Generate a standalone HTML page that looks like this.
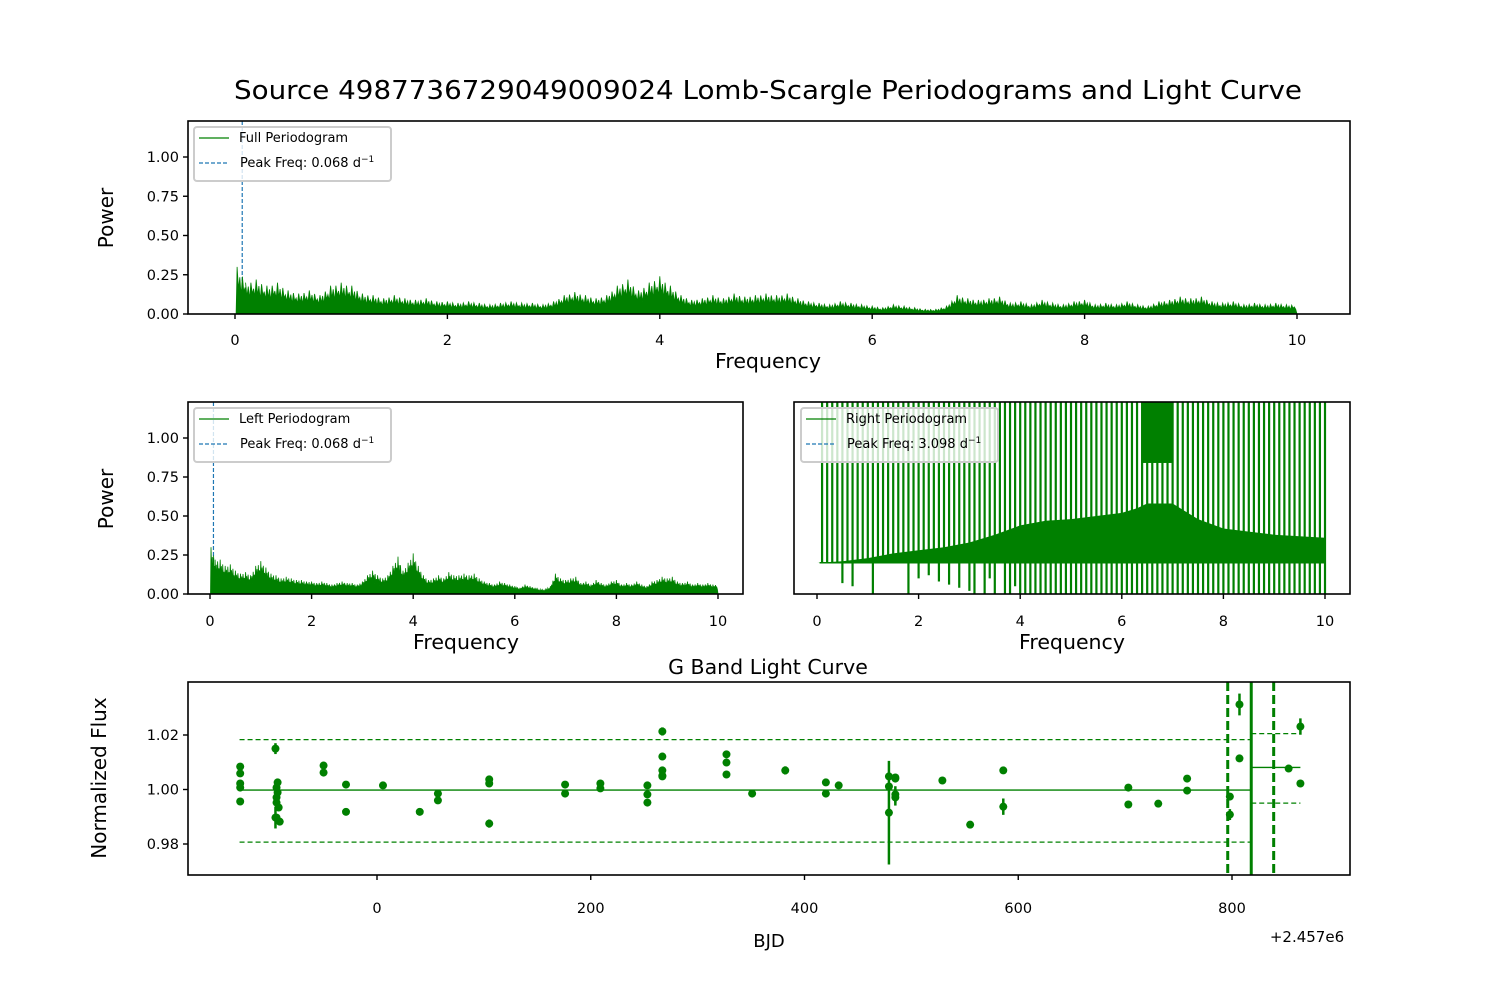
<!DOCTYPE html>
<html><head><meta charset="utf-8"><style>
html,body{margin:0;padding:0;background:#fff;}
svg{display:block;font-family:"DejaVu Sans","Liberation Sans",sans-serif;}
</style></head><body>
<svg id="fig" width="1500" height="1000" viewBox="0 0 1500 1000" xmlns="http://www.w3.org/2000/svg">
<rect width="1500" height="1000" fill="#fff"/>
<text x="768" y="99" font-size="26" text-anchor="middle" textLength="1068" lengthAdjust="spacingAndGlyphs">Source 4987736729049009024 Lomb-Scargle Periodograms and Light Curve</text>
<defs>
<clipPath id="c1"><rect x="188" y="121" width="1162" height="193"/></clipPath>
<clipPath id="c2"><rect x="188" y="402" width="555" height="192"/></clipPath>
<clipPath id="c3"><rect x="794" y="402" width="556" height="192"/></clipPath>
<clipPath id="c4"><rect x="188" y="682" width="1162" height="193"/></clipPath>
</defs>
<g id="p1" clip-path="url(#c1)"></g>
<g id="p2" clip-path="url(#c2)"></g>
<g id="p3" clip-path="url(#c3)"></g>
<g id="p4" clip-path="url(#c4)"></g>
<g id="axes"></g>
</svg>
<script>
// ---- data ----
const fullFreqs = [];
const fullPower = [0.30,0.20,0.22,0.18,0.20,0.15,0.13,0.15,0.12,0.18,
0.20,0.18,0.13,0.12,0.10,0.12,0.10,0.09,0.10,0.08,
0.08,0.07,0.08,0.07,0.06,0.07,0.08,0.07,0.07,0.06,
0.08,0.12,0.14,0.12,0.10,0.12,0.18,0.22,0.15,0.20,
0.24,0.18,0.12,0.09,0.10,0.12,0.10,0.13,0.11,0.12,
0.13,0.12,0.13,0.10,0.08,0.07,0.06,0.08,0.07,0.06,
0.05,0.04,0.06,0.05,0.04,0.03,0.03,0.05,0.12,0.10,
0.09,0.10,0.11,0.07,0.08,0.06,0.09,0.07,0.06,0.08,
0.09,0.06,0.07,0.06,0.08,0.06,0.05,0.08,0.09,0.11,
0.10,0.11,0.08,0.07,0.08,0.06,0.07,0.06,0.07,0.06];
const leftPower = [0.30,0.22,0.22,0.18,0.19,0.15,0.13,0.14,0.12,0.18,
0.21,0.17,0.13,0.12,0.10,0.11,0.10,0.09,0.09,0.08,
0.08,0.07,0.08,0.07,0.06,0.07,0.08,0.07,0.07,0.06,
0.08,0.12,0.15,0.12,0.10,0.12,0.18,0.24,0.15,0.20,
0.26,0.18,0.12,0.09,0.10,0.12,0.10,0.14,0.12,0.12,
0.13,0.12,0.13,0.10,0.08,0.07,0.06,0.08,0.07,0.06,
0.05,0.04,0.06,0.05,0.04,0.03,0.03,0.05,0.13,0.10,
0.09,0.10,0.11,0.07,0.08,0.06,0.09,0.07,0.06,0.08,
0.09,0.06,0.07,0.06,0.08,0.06,0.05,0.08,0.09,0.11,
0.10,0.11,0.08,0.07,0.08,0.06,0.07,0.06,0.07,0.06];
const peakFull = 0.068, peakLeft = 0.068;
const rightSpikeFreqs = [0.1,0.2,0.3,0.4,0.5,0.6,0.7,0.8,0.9,1.0,1.1,1.2,1.3,1.4,1.5,1.6,1.7,1.8,1.9,2.0,
2.1,2.2,2.3,2.4,2.5,2.6,2.7,2.8,2.9,3.0,3.1,3.2,3.3,3.4,3.5,3.6,3.7,3.8,3.9,4.0,
4.1,4.2,4.3,4.4,4.5,4.6,4.7,4.8,4.9,5.0,5.1,5.2,5.3,5.4,5.5,5.6,5.7,5.8,5.9,6.0,
6.1,6.2,6.3,6.4,6.5,6.6,6.7,6.8,6.9,7.0,7.1,7.2,7.3,7.4,7.5,7.6,7.7,7.8,7.9,8.0,
8.1,8.2,8.3,8.4,8.5,8.6,8.7,8.8,8.9,9.0,9.1,9.2,9.3,9.4,9.5,9.6,9.7,9.8,9.9,10.0];
const rightSpikeLows = [0.2,0.2,0.2,0.2,0.07,0.2,0.05,0.2,0.2,0.2,0.0,0.2,0.2,0.2,0.2,0.2,0.2,0.0,0.2,0.1,
0.2,0.12,0.2,0.08,0.2,0.06,0.2,0.04,0.2,0.02,0.0,0.2,0.0,0.1,0.0,0.2,0.0,0.0,0.05,0.0,
0.0,0.0,0.0,0.0,0.0,0.0,0.0,0.0,0.0,0.0,0.0,0.0,0.0,0.0,0.0,0.0,0.0,0.0,0.0,0.0,
0.0,0.0,0.0,0.0,0.0,0.0,0.0,0.0,0.0,0.0,0.0,0.0,0.0,0.0,0.0,0.0,0.0,0.0,0.0,0.0,
0.0,0.0,0.0,0.0,0.0,0.0,0.0,0.0,0.0,0.0,0.0,0.0,0.0,0.0,0.0,0.0,0.0,0.0,0.0,0.0];
const rightMassFreqs = [0.0,0.5,1.0,1.5,2.0,2.5,3.0,3.5,4.0,4.5,5.0,5.5,6.0,6.3,6.5,7.0,7.3,7.5,8.0,8.5,9.0,9.5,10.0];
const rightMassTop = [0.2,0.21,0.23,0.26,0.28,0.3,0.33,0.38,0.44,0.47,0.48,0.5,0.52,0.55,0.58,0.58,0.52,0.48,0.42,0.4,0.38,0.37,0.36];
const rightBlockFreqs = [6.4,7.0];
const rightBlockRange = [0.84,1.25];
const peakRight = 3.098;
const lcX = [-128,-128,-128,-128,-128,-95,-93,-94,-93,-94,-94,-92,-94,-91,-95,-50,-50,-29,-29,5.6,57,57,40,105,105,105,176,176,
209,209,253,253,253,267,267,267,267,267,327,327,327,351,382,420,420,432,479,479,479,485,485,485,485,529,555,
586,586,703,703,731,758,758,798,798,807,807,853,864,864];
const lcY = [1.0084,1.0059,1.0022,1.0007,0.9956,1.0150,1.0026,1.0007,0.9989,0.9971,0.9952,0.9934,0.9897,0.9882,0.9897,1.0088,1.0062,1.0018,0.9918,1.0015,0.9985,0.9960,0.9918,1.0037,1.0022,0.9875,1.0018,0.9985,
1.0022,1.0004,1.0015,0.9982,0.9952,1.0213,1.0121,1.0070,1.0051,1.0048,1.0129,1.0099,1.0055,0.9985,1.0070,1.0026,0.9985,1.0015,1.0048,1.0011,0.9915,1.0040,0.9982,0.9971,1.0044,1.0033,0.9871,
1.0070,0.9937,1.0007,0.9945,0.9948,1.0040,0.9996,0.9974,0.9908,1.0312,1.0114,1.0077,1.0231,1.0022];
const lcErr = [0.0008,0.0008,0.0008,0.0008,0.0008,0.002,0.001,0.001,0.001,0.001,0.001,0.001,0.001,0.001,0.004,0.0008,0.0008,0.0008,0.0008,0.0008,0.0008,0.0008,0.0008,0.0008,0.0008,0.0015,0.0008,0.0008,
0.0008,0.0008,0.0008,0.0008,0.0008,0.0015,0.0008,0.0008,0.0008,0.0008,0.0008,0.0008,0.0008,0.0008,0.0015,0.0008,0.0008,0.0008,0.0008,0.0008,0.019,0.0008,0.003,0.003,0.0008,0.0008,0.0008,
0.0008,0.003,0.0008,0.0008,0.0008,0.0008,0.0008,0.0008,0.002,0.004,0.0008,0.0008,0.003,0.0008];
const lcMean = 0.9998, lcUpper = 1.0183, lcLower = 0.9807, lcLineStart = -128.6, lcSplit = 818;
const lcMeanR = 1.0081, lcUpperR = 1.0205, lcLowerR = 0.9950, lcLineEndR = 864;
const lcVLines = [796, 839];
const powerTicks = [0, 0.25, 0.5, 0.75, 1.0];
const powerTickLabels = ["0.00","0.25","0.50","0.75","1.00"];
const freqTicks = [0,2,4,6,8,10];
const fluxTicks = [0.98, 1.00, 1.02];
const fluxTickLabels = ["0.98","1.00","1.02"];
const bjdTicks = [0,200,400,600,800];
for (let i=0;i<100;i++) fullFreqs.push(0.05+i*0.1);

// ---- helpers ----
const NS="http://www.w3.org/2000/svg";
const G="#008000";
function mk(tag, attrs, parent){const e=document.createElementNS(NS,tag);for(const k in attrs)e.setAttribute(k,attrs[k]);(parent||document.getElementById('axes')).appendChild(e);return e;}
function lin(d0,d1,r0,r1){return v=>r0+(v-d0)*(r1-r0)/(d1-d0);}

const P1={x0:188,x1:1350,y0:121,y1:314, sx:lin(0,10,235,1297), sy:lin(0,1,314,157)};
const P2={x0:188,x1:743,y0:402,y1:594, sx:lin(0,10,210,718), sy:lin(0,1,594,438)};
const P3={x0:794,x1:1350,y0:402,y1:594, sx:lin(0,10,817,1325), sy:lin(0,1,594,438)};
const P4={x0:188,x1:1350,y0:682,y1:875, sx:lin(0,800,377,1232), sy:lin(0.98,1.02,844,735)};

function drawPeriodogram(g, P, freqs, power, peak){
  const pat=[1,0.55,0.85,0.45,0.95,0.6,0.75,0.5];
  let pts=[[P.sx(freqs[0]-0.04),P.sy(0)]];
  for(let i=0;i<freqs.length;i++){
    const nxt = i<freqs.length-1?power[i+1]:power[i];
    for(let k=0;k<pat.length;k++){
      const f=freqs[i]-0.05+0.1*k/pat.length+ (i==0?0.02:0);
      const base = power[i]+(nxt-power[i])*k/pat.length;
      pts.push([P.sx(f),P.sy(base*pat[k])]);
    }
  }
  pts.push([P.sx(10),P.sy(0)]);
  const pl=mk('line',{x1:P.sx(peak),x2:P.sx(peak),y1:P.y0,y2:P.y1,stroke:'#1f77b4','stroke-width':1.2,'stroke-dasharray':'4,2'},g);
  
  
  const poly=mk('polygon',{points:pts.map(p=>p[0].toFixed(1)+','+p[1].toFixed(1)).join(' '),fill:G,stroke:G,'stroke-width':0.8,'stroke-linejoin':'miter'},g);
  
  
}
drawPeriodogram(document.getElementById('p1'),P1,fullFreqs,fullPower,peakFull);
drawPeriodogram(document.getElementById('p2'),P2,fullFreqs,leftPower,peakLeft);

(function(){
  const g=document.getElementById('p3');
  const pl=mk('line',{x1:P3.sx(peakRight),x2:P3.sx(peakRight),y1:P3.y0,y2:P3.y1,stroke:'#1f77b4','stroke-width':1.2,'stroke-dasharray':'4,2'},g);
  
  
  let pts=[];
  for(let i=0;i<rightMassFreqs.length;i++) pts.push(P3.sx(rightMassFreqs[i]).toFixed(1)+','+P3.sy(rightMassTop[i]).toFixed(1));
  for(let i=rightMassFreqs.length-1;i>=0;i--) pts.push(P3.sx(rightMassFreqs[i]).toFixed(1)+','+P3.sy(0.2).toFixed(1));
  const m=mk('polygon',{points:pts.join(' '),fill:G},g);
  
  
  const bl=mk('line',{x1:P3.sx(0.05),x2:P3.sx(10),y1:P3.sy(0.2),y2:P3.sy(0.2),stroke:G,'stroke-width':1.5},g);
  
  
  const b=mk('rect',{x:P3.sx(rightBlockFreqs[0]),y:P3.sy(rightBlockRange[1]),width:P3.sx(rightBlockFreqs[1])-P3.sx(rightBlockFreqs[0]),height:P3.sy(rightBlockRange[0])-P3.sy(rightBlockRange[1]),fill:G},g);
  
  
  for(let i=0;i<rightSpikeFreqs.length;i++){
    const s=mk('line',{x1:P3.sx(rightSpikeFreqs[i]),x2:P3.sx(rightSpikeFreqs[i]),y1:P3.sy(1.3),y2:P3.sy(rightSpikeLows[i]),stroke:G,'stroke-width':2.2},g);
    
    
  }
})();

(function(){
  const g=document.getElementById('p4');
  const sx=P4.sx, sy=P4.sy;
  function hl(x1,x2,y,dash,name){const l=mk('line',{x1:sx(x1),x2:sx(x2),y1:sy(y),y2:sy(y),stroke:G,'stroke-width':1.3,'stroke-dasharray':dash||'none'},g);
    
    }
  hl(lcLineStart,lcSplit,lcMean,null,'mean-flux-line');
  hl(lcLineStart,lcSplit,lcUpper,'5,3','upper-threshold-line');
  hl(lcLineStart,lcSplit,lcLower,'5,3','lower-threshold-line');
  hl(lcSplit,lcLineEndR,lcMeanR,null,'mean-flux-line-right');
  hl(lcSplit,lcLineEndR,lcUpperR,'5,3','upper-threshold-line-right');
  hl(lcSplit,lcLineEndR,lcLowerR,'5,3','lower-threshold-line-right');
  const v=mk('line',{x1:sx(lcSplit),x2:sx(lcSplit),y1:P4.y0,y2:P4.y1,stroke:G,'stroke-width':3},g);
  
  
  for(const xv of lcVLines){
    const d=mk('line',{x1:sx(xv),x2:sx(xv),y1:P4.y0,y2:P4.y1,stroke:G,'stroke-width':3,'stroke-dasharray':'9,4'},g);
    
    
  }
  for(let i=0;i<lcX.length;i++){
    const e=mk('line',{x1:sx(lcX[i]),x2:sx(lcX[i]),y1:sy(lcY[i]+lcErr[i]),y2:sy(lcY[i]-lcErr[i]),stroke:G,'stroke-width':2.5},g);
    
    
    const c=mk('circle',{cx:sx(lcX[i]),cy:sy(lcY[i]),r:4,fill:G},g);
    
    
  }
})();

function frame(P,name){const r=mk('rect',{x:P.x0,y:P.y0,width:P.x1-P.x0,height:P.y1-P.y0,fill:'none',stroke:'#000','stroke-width':1.6});
  
  }
function xticks(P,ticks,labels,name,ly){
  ticks.forEach((t,i)=>{const x=P.sx(t);
    mk('line',{x1:x,x2:x,y1:P.y1,y2:P.y1+5,stroke:'#000','stroke-width':1.4});
    const tx=mk('text',{x:x,y:ly,'font-size':14.5,'text-anchor':'middle'});tx.textContent=labels[i];
    
    });
}
function yticks(P,ticks,labels,name){
  ticks.forEach((t,i)=>{const y=P.sy(t);
    mk('line',{x1:P.x0-5,x2:P.x0,y1:y,y2:y,stroke:'#000','stroke-width':1.4});
    const tx=mk('text',{x:P.x0-9,y:y+5,'font-size':14.5,'text-anchor':'end'});tx.textContent=labels[i];
    
    });
}
frame(P1,'full-periodogram-axes');frame(P2,'left-periodogram-axes');frame(P3,'right-periodogram-axes');frame(P4,'light-curve-axes');
xticks(P1,freqTicks,freqTicks.map(String),'x-tick-label',345);
xticks(P2,freqTicks,freqTicks.map(String),'x-tick-label',626);
xticks(P3,freqTicks,freqTicks.map(String),'x-tick-label',626);
xticks(P4,bjdTicks,bjdTicks.map(String),'x-tick-label',913);
yticks(P1,powerTicks,powerTickLabels,'y-tick-label');
yticks(P2,powerTicks,powerTickLabels,'y-tick-label');
yticks(P4,fluxTicks,fluxTickLabels,'y-tick-label');
function label(x,y,txt,size,rot,name){const t=mk('text',{x:x,y:y,'font-size':size,'text-anchor':'middle'});if(rot)t.setAttribute('transform','rotate(-90 '+x+' '+y+')');t.textContent=txt;
  
  }
label(768,368,'Frequency',20.5,false,'x-axis-title');
label(466,649,'Frequency',20.5,false,'x-axis-title');
label(1072,649,'Frequency',20.5,false,'x-axis-title');
label(768,674,'G Band Light Curve',20.5,false,'light-curve-title');
label(769,947,'BJD',18,false,'x-axis-title');
label(1307,942,'+2.457e6',15,false,'offset-label');
label(113,218,'Power',20,true,'y-axis-title');
label(113,499,'Power',20,true,'y-axis-title');
label(106,778,'Normalized Flux',20,true,'y-axis-title');

function legend(x,y,t1,t2,name){
  const r=mk('rect',{x:x,y:y,width:197,height:54,rx:3,fill:'#fff','fill-opacity':0.8,stroke:'#ccc','stroke-width':2});
  
  
  mk('line',{x1:x+5,x2:x+35,y1:y+11,y2:y+11,stroke:G,'stroke-width':1.3});
  const a=mk('text',{x:x+45,y:y+15,'font-size':13});a.textContent=t1;
  
  
  mk('line',{x1:x+5,x2:x+35,y1:y+36,y2:y+36,stroke:'#1f77b4','stroke-width':1.3,'stroke-dasharray':'4,2'});
  const b=mk('text',{x:x+46,y:y+40,'font-size':13});b.innerHTML=t2+' d<tspan dy="-5" font-size="9">−1</tspan>';
  
  
}
legend(194,127,'Full Periodogram','Peak Freq: '+peakFull.toFixed(3),'full-legend');
legend(194,408,'Left Periodogram','Peak Freq: '+peakLeft.toFixed(3),'left-legend');
legend(801,408,'Right Periodogram','Peak Freq: '+peakRight.toFixed(3),'right-legend');
</script>
</body></html>
